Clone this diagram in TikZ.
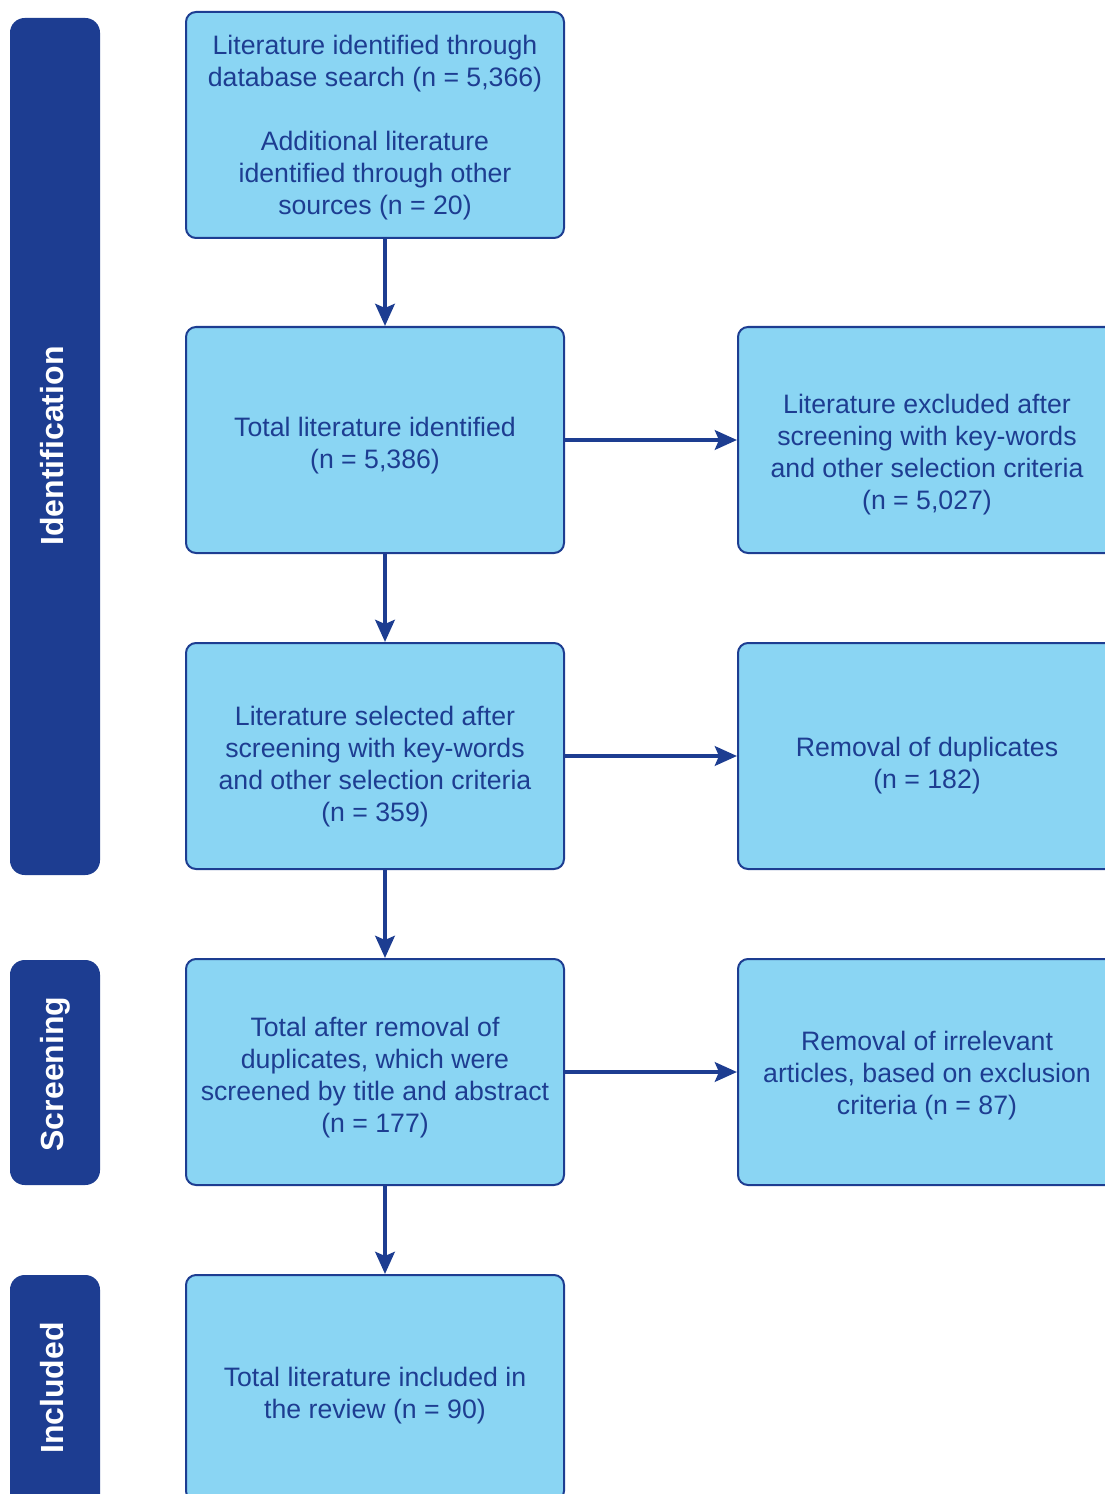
\documentclass[tikz,border=0pt]{standalone}
\usepackage{fontspec}
\setmainfont{Liberation Sans}
\usetikzlibrary{arrows.meta}
\definecolor{dblue}{HTML}{1D3D91}
\definecolor{lblue}{HTML}{8AD5F3}
\tikzset{
  box/.style={draw=dblue, line width=1.5pt, fill=lblue, rounded corners=7.5pt,
    minimum width=283.5pt, minimum height=169.5pt, inner sep=0pt},
  txt/.style={align=center, text=dblue, inner sep=0pt,
    font=\fontsize{20pt}{24pt}\selectfont},
  sidebar/.style={fill=dblue, rounded corners=11pt},
  sidelabel/.style={text=white, rotate=90, anchor=base, inner sep=0pt,
    font=\fontsize{24pt}{28pt}\selectfont\bfseries},
  arr/.style={draw=dblue, line width=3.3pt, -{Stealth[length=16.5pt,width=14.5pt,inset=3pt]}}
}
\begin{document}
\begin{tikzpicture}[x=0.75pt,y=-0.75pt]
\useasboundingbox (0,0) rectangle (1105,1494);
\clip (0,0) rectangle (1105,1494);
% side bars
\path[sidebar] (10,18) rectangle (100,875);
\path[sidebar] (10,960) rectangle (100,1185);
\path[sidebar] (10,1275) rectangle (100,1520);
\node[sidelabel] (lid) at (63,446) {Identification};
\node[sidelabel] (lsc) at (63,1074) {Screening};
\node[sidelabel] (lin) at (63,1388) {Included};
% left column boxes
\node[box] (b1) at (375,125) {};
\node[box] (b2) at (375,440) {};
\node[box] (b3) at (375,756) {};
\node[box] (b4) at (375,1072) {};
\node[box] (b5) at (375,1388) {};
% right column boxes
\node[box] (r2) at (927,440) {};
\node[box] (r3) at (927,756) {};
\node[box] (r4) at (927,1072) {};
% texts
\node[txt] (t1) at ([yshift=-2.25pt]b1.center) {Literature identified through\\database search (n = 5,366)\\[24pt]Additional literature\\identified through other\\sources (n = 20)};
\node[txt] (t2) at ([yshift=-4.5pt]b2.center) {Total literature identified\\(n = 5,386)};
\node[txt] (t3) at ([yshift=-8.25pt]b3.center) {Literature selected after\\screening with key-words\\and other selection criteria\\(n = 359)};
\node[txt] (t4) at ([yshift=-4.5pt]b4.center) {Total after removal of\\duplicates, which were\\screened by title and abstract\\(n = 177)};
\node[txt] (t5) at ([yshift=-6pt]b5.center) {Total literature included in\\the review (n = 90)};
\node[txt] (s2) at ([yshift=-11.25pt]r2.center) {Literature excluded after\\screening with key-words\\and other selection criteria\\(n = 5,027)};
\node[txt] (s3) at ([yshift=-7.5pt]r3.center) {Removal of duplicates\\(n = 182)};
\node[txt] (s4) at ([yshift=-3pt]r4.center) {Removal of irrelevant\\articles, based on exclusion\\criteria (n = 87)};
% arrows
\draw[arr] ([xshift=7.5pt]b1.south) -- ([xshift=7.5pt]b2.north);
\draw[arr] ([xshift=7.5pt]b2.south) -- ([xshift=7.5pt]b3.north);
\draw[arr] ([xshift=7.5pt]b3.south) -- ([xshift=7.5pt]b4.north);
\draw[arr] ([xshift=7.5pt]b4.south) -- ([xshift=7.5pt]b5.north);
\draw[arr] (b2.east) -- (r2.west);
\draw[arr] (b3.east) -- (r3.west);
\draw[arr] (b4.east) -- (r4.west);
\end{tikzpicture}
\end{document}
